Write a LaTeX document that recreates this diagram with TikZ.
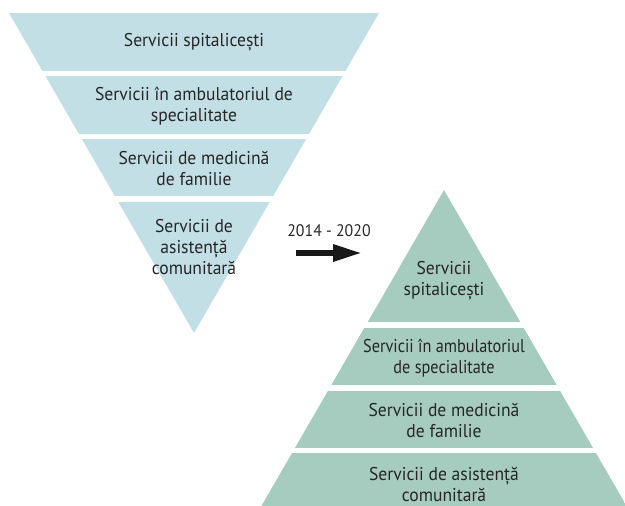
\documentclass[tikz,border=0pt]{standalone}
\usepackage{fontspec}
\setmainfont[FakeStretch=0.95]{PT Sans}
\usetikzlibrary{arrows.meta}
\begin{document}
\begin{tikzpicture}[x=1pt,y=-1pt,
  lbl/.style={font=\fontsize{18.5}{21}\selectfont, text=black!85, align=center, inner sep=0pt},
  yrlbl/.style={font=\fontsize{16.7}{20}\selectfont, text=black!85, inner sep=0pt},
  arr/.style={draw=black!90, line width=6pt, -{Triangle[length=29pt,width=16pt]}}]
\useasboundingbox (0,0) rectangle (625,506);
\definecolor{invblue}{HTML}{C2DFE6}
\definecolor{pyrgreen}{HTML}{A6CBBF}
% inverted triangle
\begin{scope}
  \clip (9,13) -- (379,13) -- (194,333) -- cycle;
  \fill[invblue] (0,13) rectangle (625,71);
  \fill[invblue] (0,76) rectangle (625,134);
  \fill[invblue] (0,139) rectangle (625,196);
  \fill[invblue] (0,202) rectangle (625,334);
\end{scope}
% pyramid
\begin{scope}
  \clip (444,190) -- (626.6,506) -- (261.4,506) -- cycle;
  \fill[pyrgreen] (0,189) rectangle (625,322);
  \fill[pyrgreen] (0,328) rectangle (625,385);
  \fill[pyrgreen] (0,391) rectangle (625,448);
  \fill[pyrgreen] (0,453) rectangle (625,507);
\end{scope}
% labels inverted
\node[lbl] (i1) at (194,42) {Servicii spitalicești};
\node[lbl] (i2) at (194,106.5) {Servicii în ambulatoriul de\\specialitate};
\node[lbl] (i3) at (194,168.5) {Servicii de medicină\\de familie};
\node[lbl] (i4) at (194,247) {Servicii de\\asistență\\comunitară};
% labels pyramid
\node[lbl] (p1) at (444,281) {Servicii\\spitalicești};
\node[lbl, xscale=0.925] (p2) at (444,358) {Servicii în ambulatoriul\\de specialitate};
\node[lbl] (p3) at (444,420) {Servicii de medicină\\de familie};
\node[lbl] (p4) at (444,484) {Servicii de asistență\\comunitară};
% arrow
\node[yrlbl] (yr) at (329,231) {2014 - 2020};
\coordinate (a0) at (296,253);
\coordinate (a1) at (362,253);
\draw[arr] (a0) -- (a1);
\end{tikzpicture}
\end{document}
